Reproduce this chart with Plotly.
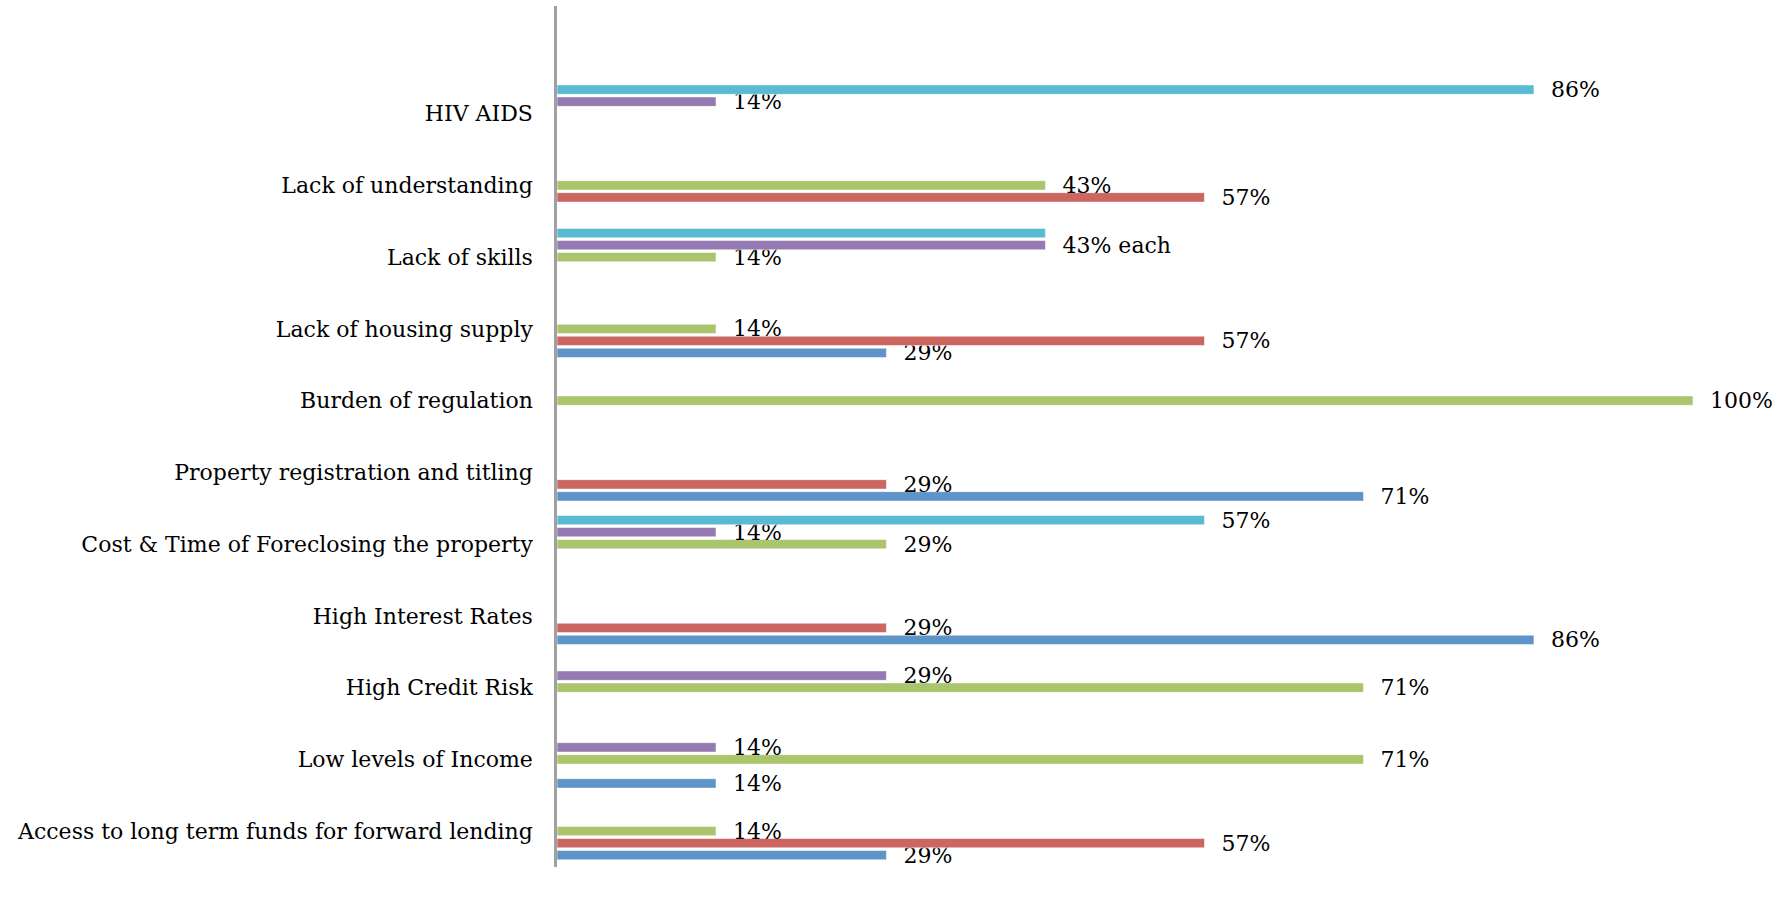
import plotly.graph_objects as go

# Constraints, listed bottom-to-top as they appear on the category axis
categories = [
    "Access to long term funds for forward lending",
    "Low levels of Income",
    "High Credit Risk",
    "High Interest Rates",
    "Cost & Time of Foreclosing the property",
    "Property registration and titling",
    "Burden of regulation",
    "Lack of housing supply",
    "Lack of skills",
    "Lack of understanding",
    "HIV AIDS",
]

# Share of respondents (%) per series; None = no bar
blue_vals   = [29, 14, None, 86, None, 71, None, 29, None, None, None]
red_vals    = [57, None, None, 29, None, 29, None, 57, None, 57, None]
green_vals  = [14, 71, 71, None, 29, None, 100, 14, 14, 43, None]
purple_vals = [None, 14, 29, None, 14, None, None, None, 43, None, 14]
cyan_vals   = [None, None, None, None, 57, None, None, None, 43, None, 86]

# Label overrides: the two 43% bars in "Lack of skills" share one label
label_override = {
    ("purple", "Lack of skills"): "43% each",
    ("cyan", "Lack of skills"): "",
}

series = [
    ("blue", blue_vals, "#5E94C8"),
    ("red", red_vals, "#CC6660"),
    ("green", green_vals, "#AAC56C"),
    ("purple", purple_vals, "#957AB1"),
    ("cyan", cyan_vals, "#5BBAD3"),
]

FONT = "DejaVu Serif"
SIZE = 22
PAD = "\u00a0\u00a0"

fig = go.Figure()
for key, vals, color in series:
    texts = []
    for cat, v in zip(categories, vals):
        if v is None:
            texts.append("")
            continue
        lbl = label_override.get((key, cat), f"{v}%")
        texts.append(PAD + lbl if lbl else "")
    fig.add_trace(go.Bar(
        name=key,
        y=categories,
        x=vals,
        orientation="h",
        marker=dict(color=color, line=dict(color="rgba(255,255,255,0.55)", width=1)),
        text=texts,
        textposition="outside",
        constraintext="none",
        cliponaxis=False,
        textfont=dict(family=FONT, size=SIZE, color="#000000"),
        hoverinfo="skip",
    ))

fig.update_layout(
    width=1791,
    height=920,
    barmode="group",
    bargap=0.164,
    bargroupgap=0.21,
    showlegend=False,
    plot_bgcolor="white",
    paper_bgcolor="white",
    margin=dict(l=557, r=98, t=6, b=53, pad=0),
    font=dict(family=FONT, size=SIZE, color="#000000"),
)
fig.update_xaxes(
    range=[0, 100],
    showgrid=False,
    zeroline=False,
    showticklabels=False,
    showline=False,
    ticks="",
)
fig.update_yaxes(
    type="category",
    categoryorder="array",
    categoryarray=categories,
    range=[-0.5, 11.5],
    showgrid=False,
    zeroline=False,
    showline=True,
    linecolor="#A0A0A0",
    linewidth=2.5,
    ticks="",
    ticklabelstandoff=17,
    tickfont=dict(family=FONT, size=SIZE, color="#000000"),
)

fig.write_html("out.html")
